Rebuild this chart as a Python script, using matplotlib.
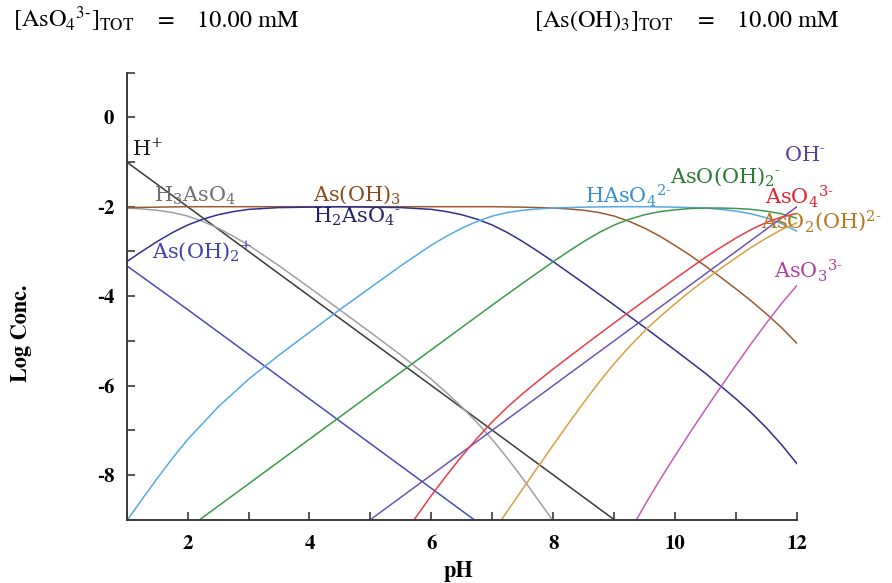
import matplotlib; matplotlib.use("Agg")
import matplotlib.pyplot as plt
from matplotlib.ticker import FixedLocator

# log concentrations (10 mM arsenate + 10 mM arsenite)
H_PLUS_PH = [1, 9]
H_PLUS = [-1.0, -9.0]
OH_MINUS_PH = [5, 12]
OH_MINUS = [-9.0, -2.0]

H3ASO4_PH = [1, 1.25, 1.5, 1.75, 2, 2.25, 2.5, 2.75, 3, 3.5, 4, 5, 5.5, 6, 6.25, 6.5, 6.75, 7, 7.25, 7.5, 8, 8.5]
H3ASO4 = [-2.03, -2.05, -2.08, -2.13, -2.21, -2.33, -2.48, -2.66, -2.86, -3.32, -3.81, -4.81, -5.32, -5.86,
          -6.16, -6.48, -6.83, -7.21, -7.63, -8.08, -9.03, -10.01]

H2ASO4_PH = [1, 1.25, 1.5, 1.75, 2, 2.25, 2.5, 2.75, 3, 3.5, 4, 4.5, 5, 5.5, 6, 6.25, 6.5, 6.75, 7, 7.25,
             7.5, 7.75, 8, 8.5, 9, 9.5, 10, 10.5, 11, 11.25, 11.5, 11.75, 12]
H2ASO4 = [-3.23, -3.00, -2.78, -2.58, -2.41, -2.28, -2.18, -2.11, -2.06, -2.02, -2.01, -2.00, -2.01, -2.02,
          -2.06, -2.11, -2.18, -2.28, -2.41, -2.58, -2.78, -3.00, -3.23, -3.71, -4.20, -4.70, -5.21, -5.73,
          -6.30, -6.61, -6.95, -7.33, -7.75]

HASO4_PH = [1, 1.25, 1.5, 1.75, 2, 2.5, 3, 3.5, 4, 4.5, 5, 5.5, 6, 6.25, 6.5, 6.75, 7, 7.25, 7.5, 7.75, 8,
            8.5, 9, 9.5, 10, 10.5, 10.75, 11, 11.25, 11.5, 11.75, 12]
HASO4 = [-9.03, -8.55, -8.08, -7.63, -7.21, -6.48, -5.86, -5.32, -4.81, -4.30, -3.81, -3.32, -2.86, -2.66,
         -2.48, -2.33, -2.21, -2.13, -2.08, -2.05, -2.03, -2.01, -2.00, -2.00, -2.01, -2.03, -2.06, -2.10,
         -2.16, -2.25, -2.38, -2.55]

ASO4_PH = [5.5, 6, 6.25, 6.5, 6.75, 7, 7.25, 7.5, 7.75, 8, 8.5, 9, 9.5, 10, 10.5, 10.75, 11, 11.25, 11.5,
           11.75, 12]
ASO4 = [-9.42, -8.46, -8.01, -7.58, -7.18, -6.81, -6.48, -6.18, -5.90, -5.63, -5.11, -4.60, -4.10, -3.61,
        -3.13, -2.91, -2.70, -2.51, -2.35, -2.23, -2.15]

AS_OH3_PH = [1, 1.5, 2, 3, 7, 7.5, 8, 8.25, 8.5, 8.75, 9, 9.25, 9.5, 9.75, 10, 10.25, 10.5, 10.75, 11,
             11.25, 11.5, 11.75, 12]
AS_OH3 = [-2.02, -2.01, -2.00, -2.00, -2.00, -2.01, -2.03, -2.05, -2.08, -2.13, -2.21, -2.33, -2.48, -2.66,
          -2.87, -3.09, -3.33, -3.58, -3.84, -4.11, -4.40, -4.71, -5.06]

AS_OH2_PLUS_PH = [1, 2, 7]
AS_OH2_PLUS = [-3.32, -4.30, -9.30]

ASO_OH2_PH = [1.75, 7, 7.5, 8, 8.25, 8.5, 8.75, 9, 9.25, 9.5, 9.75, 10, 10.25, 10.5, 10.75, 11, 11.25,
              11.5, 11.75, 12]
ASO_OH2 = [-9.45, -4.20, -3.71, -3.23, -3.00, -2.78, -2.58, -2.41, -2.28, -2.18, -2.11, -2.07, -2.04, -2.03,
           -2.03, -2.04, -2.06, -2.10, -2.16, -2.26]

ASO2_OH_PH = [7, 7.5, 8, 8.25, 8.5, 8.75, 9, 9.25, 9.5, 9.75, 10, 10.25, 10.5, 10.75, 11, 11.25, 11.5,
              11.75, 12]
ASO2_OH = [-9.30, -8.31, -7.33, -6.85, -6.38, -5.93, -5.51, -5.13, -4.78, -4.46, -4.17, -3.89, -3.63, -3.38,
           -3.14, -2.91, -2.70, -2.51, -2.36]

ASO3_PH = [9, 9.25, 9.5, 9.75, 10, 10.25, 10.5, 10.75, 11, 11.25, 11.5, 11.75, 12]
ASO3 = [-9.91, -9.28, -8.68, -8.11, -7.57, -7.04, -6.53, -6.03, -5.54, -5.06, -4.60, -4.16, -3.76]

HY = "\u2010"  # short hyphen used as the charge sign
species = [
    (H_PLUS_PH, H_PLUS, "#3a3a3a", r"H$^{+}$", "#1a1a1a", 1.08, -0.85),
    (H3ASO4_PH, H3ASO4, "#a0a0a0", r"H$_3$AsO$_4$", "#707070", 1.45, -1.89),
    (AS_OH3_PH, AS_OH3, "#9a5a30", r"As(OH)$_3$", "#8b4a1e", 4.06, -1.86),
    (H2ASO4_PH, H2ASO4, "#30308e", "H$_2$AsO$_4$$^{" + HY + "}$", "#22226e", 4.06, -2.36),
    (AS_OH2_PLUS_PH, AS_OH2_PLUS, "#4a4ab8", r"As(OH)$_2$$^{+}$", "#4040b0", 1.41, -3.15),
    (HASO4_PH, HASO4, "#55aae5", "HAsO$_4$$^{2" + HY + "}$", "#3b8fd0", 8.52, -1.92),
    (ASO_OH2_PH, ASO_OH2, "#3c9a4a", "AsO(OH)$_2$$^{" + HY + "}$", "#2a7a33", 9.92, -1.46),
    (OH_MINUS_PH, OH_MINUS, "#6b55b5", "OH$^{" + HY + "}$", "#5a3fa0", 11.78, -0.97),
    (ASO4_PH, ASO4, "#f03a46", "AsO$_4$$^{3" + HY + "}$", "#e8202e", 11.48, -1.94),
    (ASO2_OH_PH, ASO2_OH, "#d9a040", "AsO$_2$(OH)$^{2" + HY + "}$", "#b9781e", 11.41, -2.47),
    (ASO3_PH, ASO3, "#c35cb8", "AsO$_3$$^{3" + HY + "}$", "#b040a0", 11.62, -3.60),
]

fig = plt.figure(figsize=(8.92, 5.83), dpi=100)
ax = fig.add_axes([0.1420, 0.1087, 0.7515, 0.7668])
for xs, vals, col, lab, lcol, lx, ly in species:
    ax.plot(xs, vals, color=col, lw=1.1)
    ax.text(lx, ly, lab, color=lcol, fontsize=15, family="DejaVu Serif",
            math_fontfamily="dejavuserif", ha="left", va="baseline", clip_on=False)

ax.set_xlim(1, 12); ax.set_ylim(-9, 1)
ax.xaxis.set_major_locator(FixedLocator([2, 4, 6, 8, 10, 12]))
ax.xaxis.set_minor_locator(FixedLocator([1, 3, 5, 7, 9, 11]))
ax.yaxis.set_major_locator(FixedLocator([-8, -6, -4, -2, 0]))
ax.yaxis.set_minor_locator(FixedLocator([-9, -7, -5, -3, -1, 1]))
ax.set_xticklabels(["2", "4", "6", "8", "10", "12"])
ax.set_yticklabels(["-8", "-6", "-4", "-2", "0"])
ax.tick_params(which="both", direction="in", length=6, width=1.2, color="#3a3a3a")
ax.tick_params(axis="x", pad=11)
ax.tick_params(axis="y", pad=9)
for t in ax.get_xticklabels() + ax.get_yticklabels():
    t.set_fontfamily("STIXGeneral"); t.set_fontsize(15); t.set_fontweight("bold")
ax.spines["top"].set_visible(False); ax.spines["right"].set_visible(False)
for s in ("left", "bottom"):
    ax.spines[s].set_color("#3a3a3a"); ax.spines[s].set_linewidth(1.4)

fig.text(458 / 892, 1 - 572 / 583, "pH", fontsize=16, family="STIXGeneral",
         fontweight="bold", ha="center", va="center")
fig.text(22 / 892, 1 - 333 / 583, "Log Conc.", fontsize=16, family="STIXGeneral",
         fontweight="bold", rotation=90, ha="center", va="center")

hdr = dict(fontsize=17.5, family="STIXGeneral", math_fontfamily="stix", va="baseline")
yb = 1 - 27 / 583
fig.text(13 / 892, yb, "[AsO$_4$$^{3" + HY + "}$]$_{\\rm TOT}$", **hdr)
fig.text(158 / 892, yb, "=", **hdr)
fig.text(197 / 892, yb, "10.00 mM", **hdr)
fig.text(534 / 892, yb, r"[As(OH)$_3$]$_{\rm TOT}$", **hdr)
fig.text(698 / 892, yb, "=", **hdr)
fig.text(737 / 892, yb, "10.00 mM", **hdr)

fig.savefig("out.png", dpi=100)
